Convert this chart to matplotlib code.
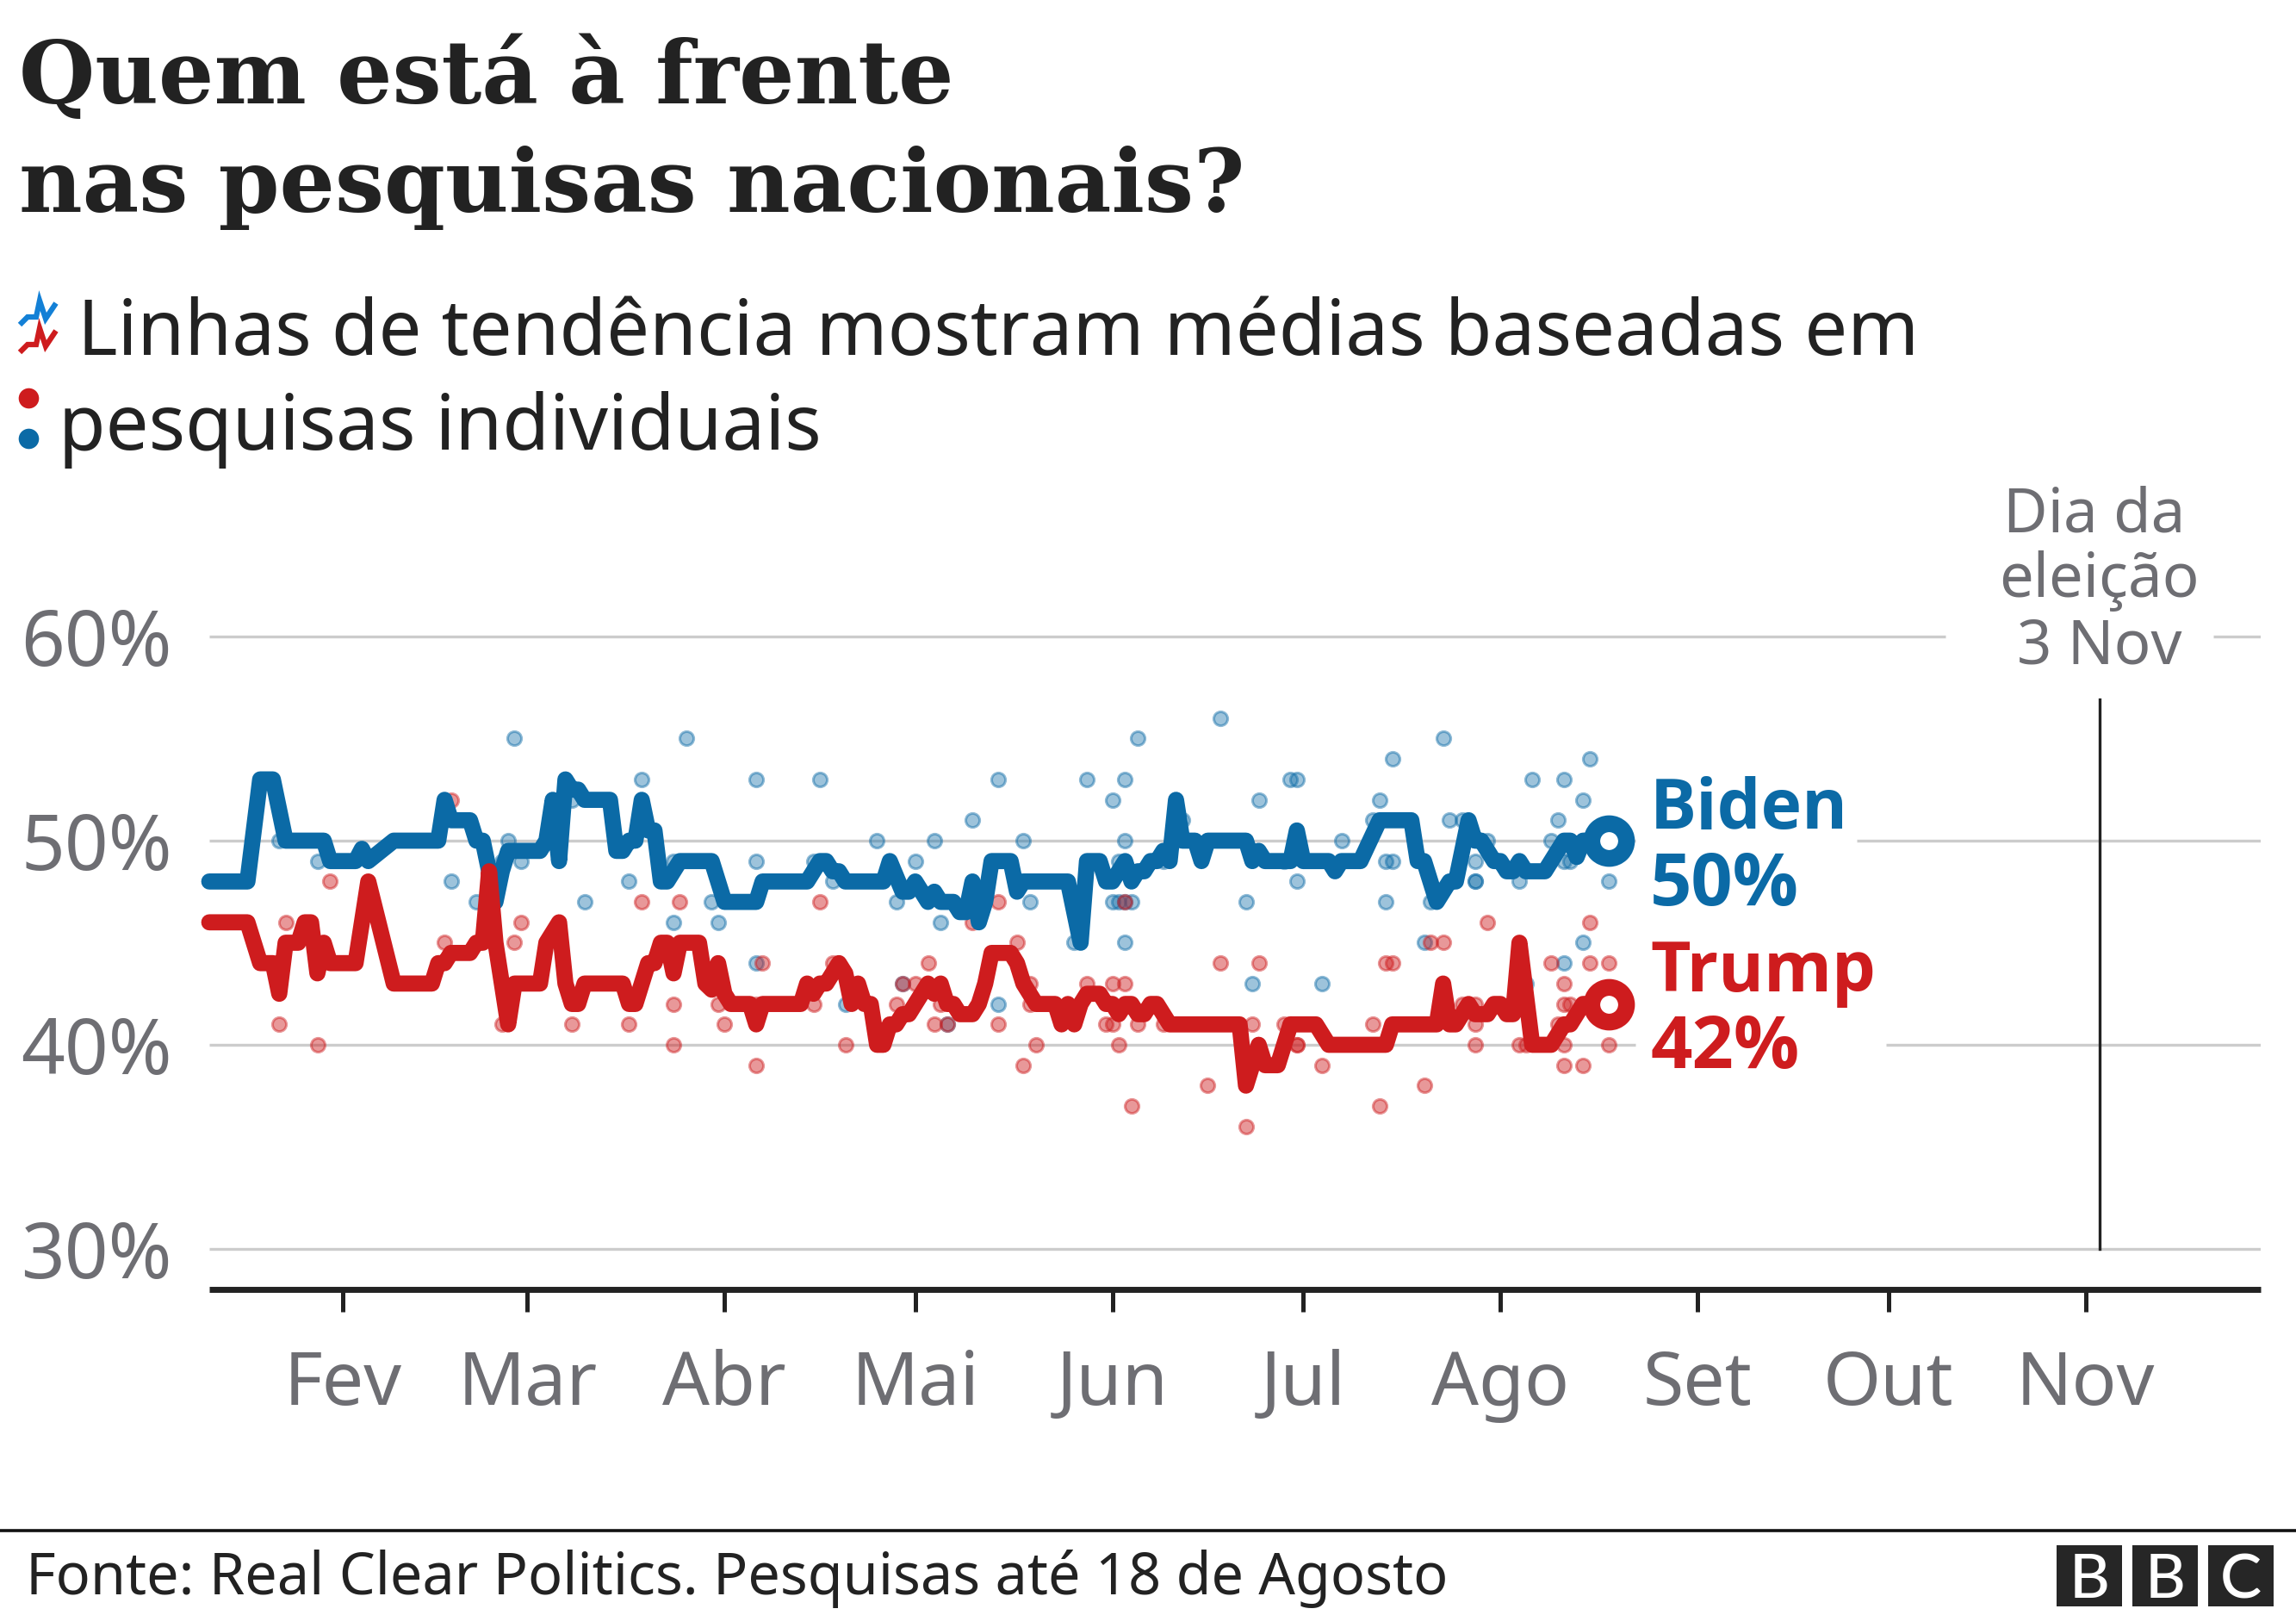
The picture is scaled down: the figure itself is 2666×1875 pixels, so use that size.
import matplotlib
matplotlib.use("Agg")
import matplotlib.pyplot as plt
from matplotlib.lines import Line2D
from matplotlib.patches import Rectangle

# --- data: x = days since 1 Jan 2020, y = percent ---
BIDEN_DAYS = [10,16,18,20,22,28,29,33,34,35,39,46,47,48,51,52,53,55,56,57,58,62,63,64,65,66,67,68,69,73,74,75,76,77,78,79,80,81,82,84,89,91,96,97,
              104,106,107,108,109,110,116,117,119,120,121,123,124,125,127,128,129,130,131,132,133,136,137,138,145,147,148,150,151,152,154,155,156,157,158,159,160,161,162,163,165,166,167,173,174,175,176,180,181,182,186,187,188,191,194,199,200,201,203,205,206,208,209,210,212,213,214,215,216,217,220,223,224,225,226,230]
BIDEN_VALUES = [48,48,53,53,50,50,49,49,49.6,49,50,50,52,51,51,50,50,47,48.5,49.5,49.5,49.5,50,52,49,53,52.5,52.5,52,52,49.5,49.5,50,50,52,50.5,50.5,48,48,49,49,47,47,48,
                48,49,49,48.5,48.5,48,48,49,47.5,47.5,48,47,47.5,47,47,46.5,46.5,48,46,47,49,49,47.5,48,48,45,49,49,48,48,49,48,48.5,48.5,49,49,49.5,49,52,50,50,49,50,50,49,49.5,49,49,50.5,49,49,48.5,49,49,51,51,49,49,47,48,48,51,50,50,49,49,48.5,48.5,49,48.5,48.5,50,50,49.2,50,50]
TRUMP_DAYS = [10,16,18,20,21,22,24,25,26,27,28,29,33,35,39,45,46,47,48,51,52,53,54,55,57,58,62,63,65,66,67,68,69,75,76,77,79,80,81,82,83,84,87,88,89,90,91,92,95,96,97,
              103,104,105,106,107,109,110,111,112,113,114,115,116,117,118,119,120,123,124,125,126,127,128,130,131,132,133,136,137,138,140,143,144,145,146,147,148,150,151,152,153,154,155,156,157,158,159,161,172,173,174,175,176,178,179,180,184,186,195,196,203,204,205,206,208,209,211,212,213,214,215,216,218,221,223,224,226,230]
TRUMP_VALUES = [46,46,44,44,42.5,45,45,46,46,43.5,45,44,44,48,43,43,44,44,44.5,44.5,45,45,48.5,45,41,43,43,45,46,43,42,42,43,43,42,42,44,44,45,45,43.5,45,45,43,42.7,44,42.5,42,42,41,42,
                42,43,42.5,43,43,44,43.5,42,43,42,42,40,40,41,41,41.5,41.5,43,42.5,43,42,42,41.5,41.5,42,43,44.5,44.5,44,43,42,42,41,42,41,42,42.5,42.5,42,42,41.5,42,42,41.5,41.5,42,42,41,41,38,39,40,39,39,40,41,41,40,40,41,41,43,41,41,42,41.5,41.5,42,42,41.5,41.5,45,40,40,41,41,42,42]

BIDEN_POLL_DAYS = [58,85,78,96,21,27,48,57,56,59,67,83,96,52,69,76,89,83,90,96,
                   106,134,148,154,180,181,169,156,152,175,130,163,115,124,138,154,105,121,153,108,181,118,139,152,153,154,155,173,125,146,154,188,193,110,134,119,126,174,185,160,179,
                   196,204,227,218,223,194,226,222,205,207,211,221,195,196,209,223,224,209,209,216,230,195,202,201,226,223,217]
BIDEN_POLL_VALUES = [55,55,53,53,50,49,48,50,49,49,52,49,49,47,47,48,47,46,46,44,
                     53,53,53,53,53,53,56,55,52,52,51,51,50,50,50,50,49,49,49,48,48,47,47,47,47,47,47,47,46,45,45,50,51,42,42,43,41,43,43,49,49,
                     54,55,54,53,53,52,52,51,51,51,50,50,49,49,49,49,49,48,48,48,48,47,47,45,45,44,43]
TRUMP_POLL_DAYS = [48,29,22,59,47,58,78,84,97,21,67,56,76,91,83,90,27,83,96,96,97,
                   106,134,154,130,137,108,123,169,175,119,121,139,148,152,154,105,118,125,139,124,126,134,151,152,156,160,174,179,180,193,110,140,153,181,181,138,185,167,155,173,
                   211,227,202,204,195,196,221,227,230,223,207,209,223,224,222,209,209,216,217,223,230,223,226,201,194]
TRUMP_POLL_VALUES = [52,48,46,46,45,45,47,47,44,41,41,41,41,41,42,42,40,40,39,42,42,
                     47,47,47,46,45,44,44,44,44,43,43,43,43,43,43,42,42,42,42,41,41,41,41,41,41,41,41,41,41,41,40,40,40,40,40,39,39,38,37,36,
                     46,46,45,45,44,44,44,44,44,43,42,42,42,42,41,41,40,40,40,40,40,39,39,38,37]

MONTH_DAYS = [31,60,91,121,152,182,213,244,274,305]
MONTH_LABELS = ["Fev","Mar","Abr","Mai","Jun","Jul","Ago","Set","Out","Nov"]
Y_TICKS = [30,40,50,60]
Y_LABELS = ["30%","40%","50%","60%"]
ELECTION_DAY = 307
TITLE_LINES = ["Quem está à frente","nas pesquisas nacionais?"]
SUB_LINES = ["Linhas de tendência mostram médias baseadas em","pesquisas individuais"]
SOURCE = "Fonte: Real Clear Politics. Pesquisas até 18 de Agosto"

BLUE = "#0b6aa6"
RED = "#ce1c1e"
GREY = "#6e6e73"
DARK = "#222222"
SANS = "Noto Sans"
BOLD = "Open Sans"

W, H = 2666, 1875
fig = plt.figure(figsize=(W/100, H/100), dpi=100, facecolor="white")
def fx(x): return x/W
def fy(y): return 1-y/H

# axes frame in pixels
L, R, T, B = 243, 2625, 560, 1497
ax = fig.add_axes([fx(L), fy(B), (R-L)/W, (B-T)/H])
PX_DAY = 7.385
PX_PCT = 23.7
ax.set_xlim(10, 10+(R-L)/PX_DAY)
ax.set_ylim(50-(B-976)/PX_PCT, 50+(976-T)/PX_PCT)
for s in ("top","left","right"):
    ax.spines[s].set_visible(False)
ax.spines["bottom"].set_linewidth(5)
ax.spines["bottom"].set_color(DARK)
ax.spines["bottom"].set_capstyle("butt")
ax.patch.set_alpha(0)

ax.set_xticks(MONTH_DAYS, MONTH_LABELS)
ax.tick_params(axis="x", length=19, width=3.6, color=DARK, pad=31, labelsize=62, labelcolor=GREY)
ax.set_yticks(Y_TICKS, Y_LABELS)
ax.tick_params(axis="y", length=0, pad=31, labelsize=64, labelcolor=GREY)
for lab_ in ax.get_xticklabels()+ax.get_yticklabels():
    lab_.set_fontfamily(SANS)

# gridlines with their gaps around the annotations
GRID = "#cccccc"
for y, segs in {60:[(10,283),(325.1,333)], 50:[(10,234.2),(269,333)],
                40:[(10,234.2),(273.7,333)], 30:[(10,333)]}.items():
    for a, b in segs:
        ax.plot([a,b],[y,y],color=GRID,lw=2.4,solid_capstyle="butt",zorder=1)

ax.plot([ELECTION_DAY+0.2]*2,[30,56.9],color=DARK,lw=2.4,zorder=2)
for t, x, y in [("Dia da",306.4,65.12),("eleição",307.2,61.92),("3 Nov",307.2,58.66)]:
    ax.text(x,y,t,ha="center",va="baseline",fontsize=51,color=GREY,family=SANS,clip_on=False)

def rgba(h,a):
    return matplotlib.colors.to_rgba(h,a)
ax.scatter(BIDEN_POLL_DAYS,BIDEN_POLL_VALUES,s=135,facecolor=rgba(BLUE,.40),edgecolor=rgba(BLUE,.45),lw=2.2,zorder=3,clip_on=False)
ax.scatter(TRUMP_POLL_DAYS,TRUMP_POLL_VALUES,s=135,facecolor=rgba(RED,.45),edgecolor=rgba(RED,.45),lw=2.2,zorder=3,clip_on=False)
ax.plot(BIDEN_DAYS,BIDEN_VALUES,color=BLUE,lw=13.5,solid_joinstyle="round",solid_capstyle="round",zorder=4,clip_on=False)
ax.plot(TRUMP_DAYS,TRUMP_VALUES,color=RED,lw=13.5,solid_joinstyle="round",solid_capstyle="round",zorder=5,clip_on=False)
ax.plot(BIDEN_DAYS[-1:],BIDEN_VALUES[-1:],"o",ms=29,mfc="white",mec=BLUE,mew=14,zorder=6)
ax.plot(TRUMP_DAYS[-1:],TRUMP_VALUES[-1:],"o",ms=29,mfc="white",mec=RED,mew=14,zorder=6)

def lab(x,y,t,c,size=58):
    fig.text(fx(x),fy(y),t,color=c,fontsize=size,fontweight="bold",family=BOLD,ha="left",va="baseline")
lab(1916,962,"Biden",BLUE)
lab(1916,1051,f"{BIDEN_VALUES[-1]}%",BLUE,61)
lab(1916,1151,"Trump",RED)
lab(1916,1240,f"{TRUMP_VALUES[-1]}%",RED,61)

# headline block
fig.text(fx(22),fy(120),TITLE_LINES[0],fontsize=73,fontweight="bold",family="DejaVu Serif",color=DARK,va="baseline")
fig.text(fx(22),fy(246),TITLE_LINES[1],fontsize=73,fontweight="bold",family="DejaVu Serif",color=DARK,va="baseline")
fig.text(fx(90),fy(412),SUB_LINES[0],fontsize=64,family=SANS,color=DARK,va="baseline")
fig.text(fx(68),fy(522),SUB_LINES[1],fontsize=64,family=SANS,color=DARK,va="baseline")

# legend glyphs
zx=[23,32,42,46,53,65]; zy=[377,368,368,349,370,352]
for dy,c in ((0,"#1380d6"),(32,"#ce1c1e")):
    fig.add_artist(Line2D([fx(v) for v in zx],[fy(v+dy) for v in zy],color=c,lw=4.5,solid_joinstyle="miter",solid_capstyle="butt"))
fig.add_artist(Line2D([fx(33)],[fy(462)],marker="o",ms=17,color=RED,mew=0))
fig.add_artist(Line2D([fx(33)],[fy(509)],marker="o",ms=17,color=BLUE,mew=0))

# footer
fig.add_artist(Line2D([0,1],[fy(1777)]*2,color="#111111",lw=2.6))
fig.text(fx(30),fy(1851),SOURCE,fontsize=48,family=SANS,color=DARK,va="baseline")
for x0,ch in ((2388,"B"),(2476,"B"),(2564,"C")):
    fig.add_artist(Rectangle((fx(x0),fy(1865)),76/W,71/H,transform=fig.transFigure,fc="#262626",ec="none"))
    fig.text(fx(x0+38),fy(1855),ch,color="white",fontsize=52,family="Lato",fontweight="medium",ha="center",va="baseline")

fig.savefig("out.png",dpi=100,facecolor="white")
